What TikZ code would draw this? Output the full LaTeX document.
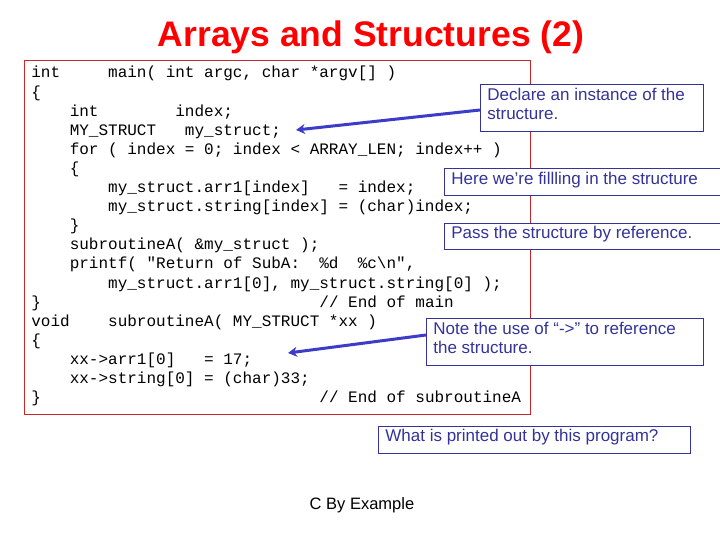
\documentclass[tikz,border=0pt]{standalone}
\usepackage{fontspec}
\setmainfont{Liberation Sans}
\setmonofont{Liberation Mono}
\usetikzlibrary{arrows.meta}
\definecolor{noteblue}{RGB}{51,51,153}
\definecolor{arrowblue}{RGB}{60,60,200}
\definecolor{boxred}{RGB}{200,40,40}
\tikzset{every picture/.style={line width=0.75pt}}
\tikzset{
  note/.style={text=noteblue,font=\fontsize{17}{19}\selectfont,anchor=north west,inner sep=0pt,align=left},
  pointer/.style={draw=arrowblue,line width=3pt,-{Stealth[length=9pt,width=10pt]}}
}
\begin{document}
\begin{tikzpicture}[x=1pt,y=1pt,yscale=-1,xscale=1]
\useasboundingbox (0,0) rectangle (720,540);
\fill[white] (0,0) rectangle (720,540);
\draw (371,37) node [text=red,font=\bfseries\fontsize{35.5}{40}\selectfont] (title) {Arrays and Structures (2)};
\draw [boxred,line width=1pt] (24,61) -- (530,61) -- (530,414) -- (24,414) -- cycle ;
\draw (31,66) node [anchor=north west,inner sep=0pt,align=left,font=\ttfamily\fontsize{16}{19.1}\selectfont] (code) {%
int~~~~~main(~int~argc,~char~*argv[]~)\\
\{\\
~~~~int~~~~~~~~index;\\
~~~~MY\_STRUCT~~~my\_struct;\\
~~~~for~(~index~=~0;~index~<~ARRAY\_LEN;~index++~)\\
~~~~\{\\
~~~~~~~~my\_struct.arr1[index]~~~=~index;\\
~~~~~~~~my\_struct.string[index]~=~(char)index;\\
~~~~\}\\
~~~~subroutineA(~\&my\_struct~);\\
~~~~printf(~"Return~of~SubA:~~\%d~~\%c\textbackslash n",\\
~~~~~~~~my\_struct.arr1[0],~my\_struct.string[0]~);\\
\}~~~~~~~~~~~~~~~~~~~~~~~~~~~~~//~End~of~main\\
void~~~~subroutineA(~MY\_STRUCT~*xx~)\\
\{\\
~~~~xx->arr1[0]~~~=~17;\\
~~~~xx->string[0]~=~(char)33;\\
\}~~~~~~~~~~~~~~~~~~~~~~~~~~~~~//~End~of~subroutineA};

\draw [noteblue,line width=0.9pt,fill=white] (480,84) rectangle (703,131);
\draw (487,88) node [note] (declare) {Declare an instance of the\\structure.};
\draw [noteblue,line width=0.9pt,fill=white] (444,168) rectangle (721,195);
\draw (451,172) node [note] (filling) {Here we’re fillling in the structure};
\draw [noteblue,line width=0.9pt,fill=white] (444,223) rectangle (721,249);
\draw (451,226) node [note] (pass) {Pass the structure by reference.};
\draw [noteblue,line width=0.9pt,fill=white] (426,318) rectangle (703,365);
\draw (433,322) node [note] (arrow) {Note the use of “->” to reference\\the structure.};
\draw [noteblue,line width=0.9pt] (378,426) rectangle (690,453);
\draw (385,429) node [note] (printed) {What is printed out by this program?};

\coordinate (decltip) at (296,130);
\coordinate (arrowtip) at (288,353);
\draw [pointer] (480,110) -- (decltip);
\draw [pointer] (426,335) -- (arrowtip);

\draw (362,505) node [font=\fontsize{16.5}{19}\selectfont] (footer) {C By Example};
\end{tikzpicture}
\end{document}
